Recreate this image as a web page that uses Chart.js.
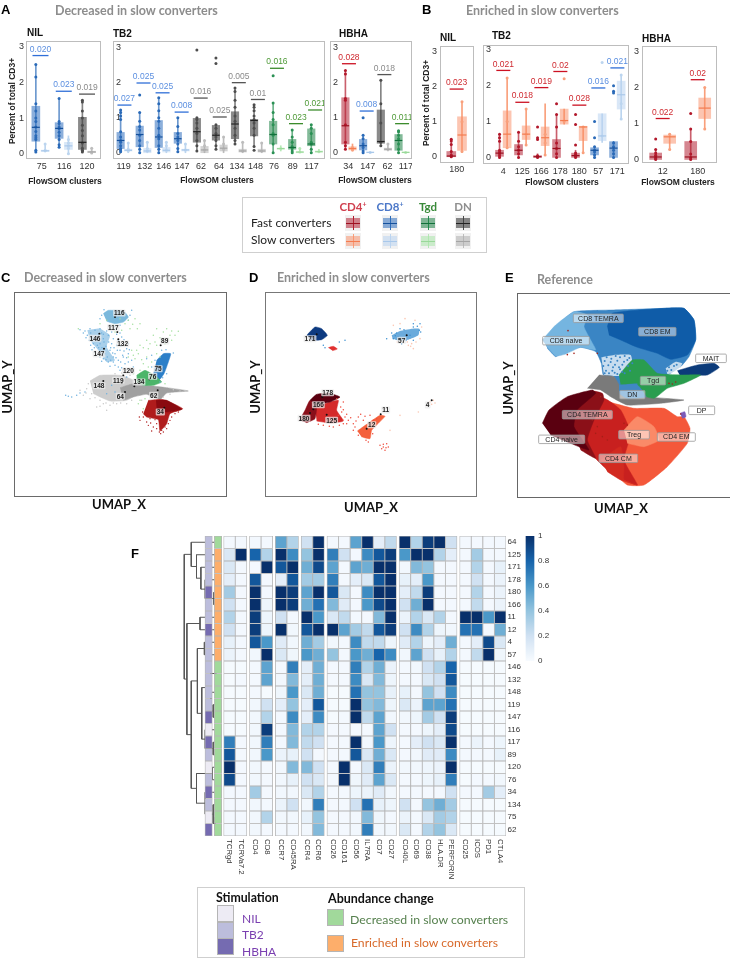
<!DOCTYPE html>
<html>
<head>
<meta charset="utf-8">
<title>Figure</title>
<script src="https://cdn.jsdelivr.net/npm/chart.js@4"></script>
<style>
  html, body { margin: 0; padding: 0; background: #fff; }
  #page { position: relative; width: 730px; height: 960px; overflow: hidden; font-family: "Liberation Sans", sans-serif; filter: blur(0.3px); }
  #page canvas { position: absolute; }
  .t { position: absolute; white-space: nowrap; line-height: 1; }
  .frame { position: absolute; box-sizing: border-box; }
</style>
</head>
<body>
<div id="page"></div>
<script>
// ---- panel A: decreased in slow converters. Boxes are [low, q1, median, q3, high]
const aNilClusters = [75, 116, 120];
const aNilLineage = ['CD8', 'CD8', 'DN'];
const aNilFast = [[0.05, 0.35, 0.74, 1.33, 2.5], [0.18, 0.43, 0.71, 0.87, 1.55], [0.05, 0.12, 0.32, 1.02, 1.5]];
const aNilSlow = [[0.05, 0.07, 0.08, 0.1, 0.27], [0, 0.12, 0.22, 0.32, 0.5], [0, 0.03, 0.05, 0.07, 0.15]];
const aNilFastPts = [[0.05, 0.1, 0.4, 0.45, 0.5, 0.62, 0.75, 0.9, 1.0, 1.2, 1.4, 2.15, 2.5], [0.18, 0.25, 0.4, 0.5, 0.6, 0.7, 0.75, 0.85, 0.9, 1.55], [0.05, 0.08, 0.1, 0.15, 0.3, 0.5, 0.65, 0.8, 1.0, 1.2, 1.45, 1.5]];
const aNilSlowPts = [[0.08, 0.1, 0.27], [0, 0.15, 0.22, 0.3, 0.4], [0.02, 0.05, 0.15]];
const aNilP = ['0.020', '0.023', '0.019'];
const aNilPY = [2.75, 1.75, 1.67];

const aTb2Clusters = [119, 132, 146, 147, 62, 64, 134, 148, 76, 89, 117];
const aTb2Lineage = ['CD8', 'CD8', 'CD8', 'CD8', 'DN', 'DN', 'DN', 'DN', 'Tgd', 'Tgd', 'Tgd'];
const aTb2Fast = [[0.03, 0.12, 0.35, 0.58, 1.22], [0, 0.17, 0.52, 0.76, 1.15], [0, 0.15, 0.45, 0.92, 1.57], [0.03, 0.27, 0.4, 0.58, 1.0], [0.05, 0.3, 0.6, 0.98, 1.0], [0.1, 0.36, 0.5, 0.78, 0.8], [0.25, 0.4, 0.82, 1.17, 1.85], [0.18, 0.48, 0.92, 0.95, 1.37], [0, 0.25, 0.52, 0.9, 1.42], [0, 0.1, 0.15, 0.38, 0.65], [0, 0.2, 0.25, 0.68, 0.8]];
const aTb2Slow = [[0, 0.05, 0.07, 0.1, 0.28], [0, 0, 0.05, 0.12, 0.3], [0, 0.02, 0.07, 0.15, 0.3], [0, 0.05, 0.08, 0.1, 0.25], [0, 0, 0.08, 0.18, 0.35], [0, 0.05, 0.13, 0.22, 0.45], [0, 0.02, 0.05, 0.1, 0.3], [0, 0.02, 0.05, 0.1, 0.28], [0.05, 0.1, 0.12, 0.13, 0.2], [0, 0, 0.02, 0.03, 0.12], [0, 0.02, 0.03, 0.05, 0.1]];
const aTb2FastPts = [[0.03, 0.08, 0.12, 0.2, 0.3, 0.35, 0.45, 0.6, 0.95, 1.05, 1.15, 1.22], [0, 0.1, 0.2, 0.35, 0.5, 0.65, 0.75, 0.9, 1.15, 1.65], [0, 0.1, 0.2, 0.4, 0.5, 0.7, 0.9, 1.0, 1.2, 1.4, 1.57], [0.03, 0.12, 0.25, 0.35, 0.45, 0.55, 0.75, 1.0], [0.05, 0.2, 0.35, 0.55, 0.7, 0.85, 0.95, 1.0, 2.93], [0.1, 0.2, 0.35, 0.45, 0.55, 0.7, 0.8, 2.55, 2.7], [0.25, 0.35, 0.5, 0.7, 0.9, 1.05, 1.3, 1.5, 1.75, 1.85], [0.07, 0.18, 0.5, 0.7, 0.85, 0.95, 1.05, 1.2, 1.3, 1.37], [0, 0.25, 0.5, 0.55, 0.8, 0.95, 1.15, 1.42, 2.2], [0, 0.05, 0.12, 0.18, 0.3, 0.45, 0.65], [0, 0.1, 0.25, 0.3, 0.55, 0.7, 0.8]];
const aTb2SlowPts = [[0.05, 0.1, 0.28], [0.05, 0.12, 0.3], [0.07, 0.2, 0.3], [0.08, 0.25], [0.08, 0.2, 0.35], [0.1, 0.25, 0.45], [0.05, 0.3], [0.05, 0.28], [0.12], [0.02, 0.12], [0.03]];
const aTb2P = ['0.027', '0.025', '0.025', '0.008', '0.016', '0.025', '0.005', '0.01', '0.016', '0.023', '0.021'];
const aTb2PY = [1.36, 1.99, 1.71, 1.16, 1.56, 1.02, 2.0, 1.52, 2.41, 0.83, 1.22];

const aHbhaClusters = [34, 147, 62, 117];
const aHbhaLineage = ['CD4', 'CD8', 'DN', 'Tgd'];
const aHbhaFast = [[0.1, 0.25, 0.77, 1.57, 2.35], [0, 0.08, 0.2, 0.38, 0.5], [0.2, 0.27, 0.32, 1.22, 2.07], [0, 0.07, 0.35, 0.52, 0.63]];
const aHbhaSlow = [[0.05, 0.08, 0.12, 0.17, 0.25], [0, 0, 0.01, 0.02, 0.03], [0.05, 0.07, 0.1, 0.13, 0.25], [0, 0, 0.01, 0.02, 0.02]];
const aHbhaFastPts = [[0.1, 0.2, 0.3, 0.8, 1.5, 1.55, 2.25, 2.35], [0, 0.05, 0.15, 0.25, 0.4, 0.5, 1.0], [0.2, 0.3, 0.85, 1.4, 2.07], [0, 0.1, 0.25, 0.4, 0.5, 0.6, 0.63]];
const aHbhaSlowPts = [[0.08, 0.12, 0.15], [0.01], [0.1, 0.25], [0.01]];
const aHbhaP = ['0.028', '0.008', '0.018', '0.011'];
const aHbhaPY = [2.54, 1.19, 2.23, 0.83];

// ---- panel B: enriched in slow converters
const bNilClusters = [180];
const bNilLineage = ['CD4'];
const bNilFast = [[0, 0, 0.02, 0.15, 0.5]];
const bNilSlow = [[0.12, 0.18, 0.62, 1.14, 1.57]];
const bNilFastPts = [[0, 0.02, 0.05, 0.15, 0.35, 0.45, 0.5]];
const bNilSlowPts = [[0.15, 1.0, 1.57]];
const bNilP = ['0.023'];
const bNilPY = [1.93];

const bTb2Clusters = [4, 125, 166, 178, 180, 57, 171];
const bTb2Lineage = ['CD4', 'CD4', 'CD4', 'CD4', 'CD4', 'CD8', 'CD8'];
const bTb2Fast = [[0, 0.03, 0.12, 0.2, 0.65], [0, 0.07, 0.2, 0.36, 0.7], [0, 0, 0.02, 0.05, 0.1], [0, 0, 0.25, 0.5, 1.2], [0, 0, 0.05, 0.12, 0.2], [0, 0.07, 0.2, 0.27, 0.3], [0, 0, 0.26, 0.44, 0.45]];
const bTb2Slow = [[0.25, 0.27, 0.65, 1.3, 2.22], [0.35, 0.5, 0.65, 0.88, 1.35], [0.07, 0.33, 0.55, 0.85, 1.5], [0.93, 0.93, 1.03, 1.35, 1.35], [0.13, 0.47, 0.85, 0.87, 0.87], [0.42, 0.47, 0.6, 1.22, 1.22], [1.07, 1.35, 1.75, 2.13, 2.3]];
const bTb2FastPts = [[0, 0.05, 0.1, 0.15, 0.2, 0.45, 0.55, 0.65], [0, 0.1, 0.2, 0.3, 0.45, 0.7], [0, 0.02, 0.05, 0.5, 0.55, 0.85], [0, 0.1, 0.25, 0.4, 0.85, 1.2, 1.5], [0, 0.03, 0.08, 0.12, 0.35, 0.92, 1.2], [0, 0.07, 0.15, 0.2, 0.3, 0.55, 1.0], [0, 0.1, 0.2, 0.3, 0.4, 1.8, 1.85, 2.0]];
const bTb2SlowPts = [[0.27, 1.0, 2.22], [0.35, 0.65, 1.35], [0.07, 0.4, 0.65], [1.0, 2.2], [0.13, 0.85], [0.6, 2.65], [1.07, 1.5, 2.3]];
const bTb2P = ['0.021', '0.018', '0.019', '0.02', '0.028', '0.016', '0.021'];
const bTb2PY = [2.43, 1.54, 1.95, 2.4, 1.46, 1.94, 2.5];

const bHbhaClusters = [12, 180];
const bHbhaLineage = ['CD4', 'CD4'];
const bHbhaFast = [[0, 0, 0.07, 0.18, 0.28], [0, 0, 0.07, 0.5, 0.85]];
const bHbhaSlow = [[0.28, 0.45, 0.63, 0.68, 0.72], [0.85, 1.14, 1.43, 1.71, 2.0]];
const bHbhaFastPts = [[0, 0.03, 0.07, 0.12, 0.18, 0.28, 0.57], [0, 0.05, 0.15, 0.5, 0.85, 1.28]];
const bHbhaSlowPts = [[0.28, 0.7], [0.85, 2.0]];
const bHbhaP = ['0.022', '0.02'];
const bHbhaPY = [1.14, 2.22];

// ---- UMAP clouds, read in picture units
const cBlobs = {
  '#cdcdcd': [[270, 362], [300, 345], [360, 345], [400, 360], [410, 400], [380, 420], [330, 422], [280, 400]],
  '#a0a0a0': [[360, 382], [400, 370], [440, 375], [500, 382], [565, 392], [500, 398], [480, 418], [440, 402], [400, 410], [370, 420]],
  'rgba(111,177,222,0.6)': [[262, 210], [300, 205], [330, 225], [320, 260], [345, 300], [320, 305], [295, 270], [270, 240]],
  '#7ab8dc': [[310, 160], [325, 150], [370, 152], [385, 170], [370, 185], [345, 190], [320, 183]],
  '#2c7fc8': [[470, 300], [490, 280], [512, 280], [505, 305], [492, 340], [478, 358], [460, 340]],
  '#4cb56a': [[410, 345], [435, 330], [470, 350], [485, 365], [460, 375], [430, 375], [410, 365]],
  '#b01c1c': [[445, 420], [490, 418], [548, 445], [510, 460], [500, 490], [480, 512], [475, 478], [440, 470], [430, 460]],
  '#8a0a10': [[468, 420], [500, 420], [545, 447], [500, 455], [470, 445]]
};
const cBlueSpeck = [[240, 208], [255, 212], [270, 205], [285, 210], [300, 205], [262, 225], [278, 232], [295, 225], [310, 235], [325, 225], [340, 235], [280, 250], [300, 250], [318, 258], [335, 250], [355, 240], [370, 250], [300, 270], [315, 280], [330, 270], [345, 280], [360, 270], [310, 295], [325, 305], [340, 290], [355, 300], [370, 290], [385, 280], [345, 315], [375, 310], [330, 318], [290, 285], [283, 262], [268, 240], [350, 222], [365, 230], [380, 265], [395, 300], [320, 212], [305, 218], [197, 405], [205, 408], [215, 410], [230, 405], [240, 398], [255, 395], [320, 400], [335, 375], [345, 395], [380, 350], [360, 330], [440, 295], [455, 320], [250, 218], [258, 232], [272, 218], [288, 240], [292, 255], [306, 262], [312, 245], [326, 245], [332, 262], [342, 262], [350, 255], [362, 258], [372, 272], [380, 292], [388, 268], [300, 290], [305, 303], [318, 298], [332, 300], [348, 292], [362, 305], [368, 285], [352, 270], [338, 278], [322, 290], [296, 262], [285, 275], [276, 268], [272, 255], [310, 222], [335, 215], [348, 205], [360, 218], [372, 238], [385, 250], [340, 305], [355, 320], [365, 322], [385, 305], [400, 320], [305, 165], [300, 175], [390, 165], [385, 180], [330, 195], [360, 195], [345, 198], [395, 150], [312, 148], [470, 355], [480, 365], [488, 352], [500, 340], [465, 300], [455, 285], [485, 270], [498, 268], [520, 278]];
const cGreenSpeck = [[235, 205], [300, 190], [320, 180], [340, 195], [360, 175], [385, 180], [405, 175], [420, 190], [390, 205], [365, 210], [345, 215], [470, 205], [490, 215], [515, 212], [535, 213], [525, 225], [505, 235], [480, 232], [460, 225], [440, 240], [420, 255], [445, 265], [470, 255], [495, 250], [515, 240], [395, 270], [415, 280], [440, 290], [405, 295], [385, 290], [430, 310], [455, 305], [420, 330], [400, 340], [415, 430], [430, 445], [375, 190], [398, 192], [412, 205], [500, 205], [510, 225], [485, 240], [465, 245], [450, 250], [430, 262], [410, 270], [400, 285], [425, 298], [445, 320], [470, 280], [480, 290], [420, 420], [435, 415], [495, 370]];
const cGreySpeck = [[290, 440], [310, 430], [330, 435], [350, 430], [300, 420], [270, 415], [250, 405], [260, 385], [240, 390], [425, 420], [380, 430], [320, 450], [540, 392], [555, 391], [265, 370], [258, 398], [285, 412], [318, 428], [340, 428], [362, 428], [395, 420], [300, 438], [275, 400], [345, 340], [365, 338], [390, 345], [520, 388], [510, 402], [490, 410]];
const cRedSpeck = [[430, 470], [440, 485], [450, 475], [470, 490], [485, 510], [495, 500], [505, 490], [515, 470], [525, 460], [460, 465], [490, 475], [420, 480], [445, 495], [478, 515], [535, 455], [460, 500], [510, 480], [436, 462], [428, 455], [452, 488], [465, 478], [470, 505], [482, 520], [490, 515], [500, 505], [515, 455], [528, 452], [418, 470], [455, 512]];
const cDots = [[345, 170], [352, 215], [298, 220], [355, 237], [312, 265], [482, 255], [470, 318], [370, 345], [365, 368], [448, 357], [403, 378], [310, 362], [375, 395], [473, 390], [493, 442]];
const cNames = ['116', '117', '146', '132', '147', '89', '75', '120', '119', '76', '134', '148', '64', '62', '34'];
const cLabelX = [358, 340, 285, 368, 297, 494, 474, 385, 355, 458, 417, 297, 361, 461, 481];
const cLabelY = [158, 202, 234, 250, 281, 242, 325, 332, 360, 348, 365, 376, 408, 405, 455];

const dBlobs = {
  '#0d3a80': [[920, 225], [945, 200], [965, 205], [982, 225], [965, 238], [935, 240]],
  '#e03030': [[985, 262], [1000, 258], [1012, 266], [998, 271]],
  'rgba(58,143,208,0.75)': [[1175, 225], [1200, 212], [1235, 205], [1258, 205], [1255, 225], [1225, 238], [1195, 240], [1178, 235]],
  '#d42a2a': [[945, 440], [990, 425], [1015, 420], [1010, 450], [1030, 482], [990, 488], [950, 482]],
  '#8a0f1a': [[898, 480], [915, 450], [930, 420], [950, 430], [945, 475], [920, 487]],
  '#5a0010': [[930, 420], [950, 402], [985, 398], [1020, 410], [990, 425], [950, 432]],
  '#f4603c': [[1072, 512], [1100, 492], [1140, 465], [1155, 468], [1115, 510], [1110, 535], [1085, 530]]
};
const dRedSpeck = [[1025, 455], [1035, 470], [1015, 465], [1045, 480], [1060, 490], [1075, 470], [1090, 480], [1110, 465], [1120, 480], [1060, 510], [1140, 555], [1150, 560], [1160, 550], [1155, 570], [1145, 565], [1165, 560], [1000, 500], [970, 495], [1030, 490], [1010, 415], [1030, 425], [1105, 545], [1125, 490], [1022, 440], [1030, 448], [1040, 462], [1052, 472], [1028, 478], [1040, 490], [1018, 495], [988, 498], [955, 492], [1068, 482], [1082, 462], [1095, 468], [1065, 500], [1075, 525], [1098, 540], [1118, 520], [1130, 475], [1150, 552], [1158, 562]];
const dPeachSpeck = [[1180, 195], [1215, 175], [1245, 180], [1265, 200], [1235, 250], [1240, 265], [1225, 255], [1260, 235], [1290, 425], [1300, 420], [1305, 428], [1295, 432], [1255, 455], [1200, 465], [1170, 510], [1222, 245], [1232, 258], [1248, 245], [1200, 190], [1192, 245], [1285, 430]];
const dBlueSpeck = [[1180, 235], [1190, 218], [1200, 205], [1240, 190], [1260, 190], [1262, 215], [1205, 250], [1240, 240], [970, 255], [975, 262], [1035, 240], [1018, 245], [1160, 235], [1186, 226], [1195, 230], [1208, 238], [1218, 240], [1230, 225], [1240, 200], [1252, 198], [1258, 210], [1212, 208], [1175, 218]];
const dDots = [[950, 222], [1220, 225], [967, 410], [940, 447], [930, 458], [980, 463], [1142, 462], [1100, 505], [1295, 420]];
const dNames = ['171', '57', '178', '166', '180', '125', '11', '12', '4'];
const dLabelX = [930, 1205, 983, 955, 912, 995, 1157, 1115, 1283];
const dLabelY = [235, 240, 397, 433, 474, 480, 449, 493, 434];

const eBlobs = {
  '#3a85c4': [[190, 240], [230, 195], [280, 155], [400, 150], [550, 145], [610, 145], [640, 180], [645, 240], [625, 290], [600, 320], [560, 345], [530, 345], [530, 395], [415, 395], [400, 350], [368, 345], [362, 310], [345, 275], [300, 262], [250, 275], [225, 290], [200, 265]],
  '#0f5ca8': [[380, 200], [395, 160], [550, 145], [610, 145], [640, 180], [645, 240], [620, 285], [570, 298], [530, 280], [470, 262], [420, 240], [385, 225]],
  '#75b5e0': [[185, 240], [225, 195], [280, 155], [320, 165], [310, 200], [330, 240], [345, 270], [300, 262], [255, 282], [225, 288], [200, 262]],
  'rgba(255,255,255,0.72)': [[362, 292], [400, 285], [450, 285], [455, 310], [445, 345], [400, 348], [370, 345]],
  'rgba(255,255,255,0.7)': [[555, 325], [585, 305], [605, 310], [590, 335], [560, 342]],
  '#0c3b7a': [[590, 332], [650, 315], [700, 310], [716, 322], [680, 345], [630, 345], [600, 350]],
  '#7a7a7a': [[355, 345], [400, 350], [420, 380], [500, 410], [610, 420], [540, 430], [440, 435], [390, 410], [360, 390], [320, 385]],
  '#2a9d4f': [[415, 345], [455, 300], [490, 300], [530, 340], [600, 345], [660, 345], [610, 370], [560, 385], [520, 415], [470, 400], [470, 370], [420, 375]],
  '#4088c4': [[415, 375], [470, 375], [495, 410], [440, 416], [415, 400]],
  '#f4583a': [[370, 420], [400, 430], [460, 445], [550, 445], [590, 470], [610, 470], [628, 505], [620, 550], [560, 620], [490, 675], [440, 675], [405, 640], [420, 560], [420, 500]],
  '#c8201f': [[320, 440], [370, 415], [420, 450], [450, 520], [430, 600], [470, 675], [420, 655], [375, 625], [340, 590], [300, 530]],
  '#8b1018': [[250, 450], [330, 393], [365, 400], [370, 420], [340, 480], [320, 540], [345, 595], [300, 570]],
  '#5a0010': [[185, 490], [205, 450], [260, 410], [335, 390], [345, 400], [290, 450], [280, 500], [325, 570], [270, 550], [210, 525]],
  '#fa8a68': [[430, 510], [470, 470], [520, 500], [535, 540], [490, 560], [440, 550]],
  '#d22a20': [[360, 600], [420, 560], [430, 620], [430, 660], [470, 675], [420, 660], [380, 635]],
  '#7a5ab8': [[598, 460], [612, 455], [616, 470], [605, 475]]
};
const eBlueSpeck = [[372, 303], [383, 316], [397, 322], [410, 302], [425, 314], [440, 300], [455, 310], [385, 340], [402, 338], [418, 328], [432, 340], [565, 322], [580, 318], [378, 292], [392, 296], [405, 288], [418, 292], [432, 288], [446, 294], [368, 318], [376, 332], [390, 306], [403, 314], [415, 322], [430, 305], [442, 318], [372, 340], [395, 332], [410, 342], [425, 336], [448, 332], [572, 330], [588, 314], [560, 332]];
const eRedSpeck = [[262, 212], [260, 284], [280, 280], [350, 280], [525, 225], [565, 370], [575, 372], [585, 366], [600, 462], [360, 410], [430, 490], [440, 495], [335, 480], [350, 500], [365, 530], [345, 520], [380, 540]];
const eNames = ['CD8 TEMRA', 'CD8 EM', 'CD8 naive', 'MAIT', 'Tgd', 'DN', 'DP', 'CD4 TEMRA', 'CD4 naive', 'Treg', 'CD4 EM', 'CD4 CM'];
const eLabelX = [353, 530, 256, 691, 517, 455, 663, 320, 243, 460, 587, 413];
const eLabelY = [175, 215, 242, 295, 362, 404, 451, 464, 538, 524, 531, 595];
const eLabelW = [150, 112, 140, 92, 76, 76, 78, 150, 138, 92, 114, 116];

// ---- panel F heatmap
const markerNames = ['TCRgd', 'TCRVa7.2', 'CD4', 'CD8', 'CCR7', 'CD45RA', 'CCR4', 'CCR6', 'CD26', 'CD161', 'CD56', 'IL7RA', 'CD7', 'CD27', 'CD40L', 'CD69', 'CD38', 'HLA.DR', 'PERFORIN', 'CD25', 'ICOS', 'PD1', 'CTLA4'];
const markerGroups = [0, 0, 1, 1, 2, 2, 3, 3, 4, 4, 4, 4, 4, 4, 5, 5, 5, 5, 5, 6, 6, 6, 6];
const rowClusters = [64, 125, 171, 178, 180, 166, 11, 12, 4, 57, 146, 132, 148, 119, 147, 116, 117, 89, 120, 76, 34, 134, 75, 62];
const rowStimulation = ['TB2', 'TB2', 'TB2', 'TB2', 'HBHA', 'TB2', 'TB2', 'HBHA', 'TB2', 'TB2', 'TB2', 'TB2', 'TB2', 'TB2', 'HBHA', 'NIL', 'HBHA', 'TB2', 'NIL', 'TB2', 'HBHA', 'TB2', 'NIL', 'HBHA'];
const rowAbundance = ['dec', 'enr', 'enr', 'enr', 'enr', 'enr', 'enr', 'enr', 'enr', 'enr', 'dec', 'dec', 'dec', 'dec', 'dec', 'dec', 'dec', 'dec', 'dec', 'dec', 'dec', 'dec', 'dec', 'dec'];
const heatValues = [
  [.02, .02, .02, .02, .55, .3, .2, 1, .02, .02, .55, 1, .1, .25, 1, .3, .95, 1, .2, .02, .02, .02, .02],
  [.15, 1, .8, .3, 1, .65, .4, 1, .7, .2, .02, .65, .85, .95, .6, 1, 1, .3, .1, .02, .35, .02, .02],
  [.15, .02, .02, 1, .85, 1, .5, .9, .55, .02, .55, .5, 1, 1, .03, .45, .4, .02, .02, .02, .3, .02, .08],
  [.1, .02, .85, .02, .1, .85, .35, .35, .7, .02, .1, .15, .85, 1, .08, .1, .6, .02, .02, .02, .2, .02, .06],
  [.35, .02, 1, .02, 1, .95, .55, 1, .85, .15, .02, .65, 1, 1, .1, .25, .95, .02, .02, .02, .3, .02, .06],
  [.2, .02, 1, .05, 1, .95, .5, .75, .45, .12, .02, .6, .9, 1, .2, .5, 1, .02, .02, .02, .25, .02, .06],
  [.3, .02, .95, .05, .2, .02, 1, .6, .15, .25, .02, .02, .45, 1, .06, .3, .15, .3, .02, 1, 1, .6, 1],
  [.2, .02, .95, .05, 1, .03, .85, 1, 1, .55, .35, .25, .85, .95, .2, .65, .3, .05, .03, .75, .75, .02, .5],
  [.08, .02, .85, .6, .12, .03, .5, .35, .03, .02, .65, .25, .25, .05, .12, .3, .05, .1, .5, .02, .1, .9, .15],
  [.06, .02, .03, 1, .15, .04, .6, .5, .4, .02, .6, .5, .8, .65, .03, .55, .2, .08, .3, .02, .25, 1, .04],
  [.01, .01, .02, .55, .02, .7, .1, .5, .02, .02, .7, .3, .5, .06, .02, .03, .2, .3, .8, .01, .01, .01, .01],
  [.01, .02, .02, .55, .03, .45, .1, .5, .02, .02, .65, .15, .45, .05, .02, .02, .15, .2, .85, .01, .01, .01, .01],
  [.01, .01, .02, .01, .04, .6, .15, .5, .01, .01, .75, .4, .4, .08, .08, .02, .4, .2, .65, .01, .01, .01, .01],
  [.01, .01, .03, .2, .1, .4, .1, .85, .01, .01, 1, .4, .45, .05, .15, .06, .55, .55, .75, .01, .01, .01, .01],
  [.01, .01, .03, .3, .02, .65, .1, .65, .01, .02, 1, .25, .55, .03, .03, .05, .35, .2, .95, .01, .01, .01, .01],
  [.01, .01, .03, .95, .02, .45, .3, .3, .02, .02, .02, .02, .55, .2, .02, .02, .05, .1, .9, .01, .01, .01, .01],
  [.7, .02, .03, .7, .02, .45, .25, .2, .02, .02, 1, .03, .6, .05, .02, .1, .2, .15, 1, .02, .06, .02, .05],
  [.85, .02, .03, .6, .06, .08, .2, .02, .02, .02, .85, .15, .5, .15, .02, .03, .12, .12, .65, .02, .02, .02, .08],
  [1, .02, .03, .02, .03, .45, .45, .2, .02, 1, .02, .15, .7, .06, .03, .03, .05, .06, 1, .01, .01, .01, .01],
  [.9, .02, .03, .02, .03, .08, .2, .15, .02, 1, .04, .12, .55, .15, .02, .02, .05, .08, .7, .01, .02, .02, .03],
  [.02, .02, .35, .02, .03, .03, .15, .3, .02, .02, .05, .06, .12, .03, .02, .02, .02, .02, .2, .02, .02, .35, .1],
  [.02, .02, .03, .02, .06, .2, .03, .7, .02, .02, .2, .75, .08, .05, .2, .02, .4, .5, .35, .01, .01, .01, .01],
  [.02, .02, .03, .3, .03, .03, .08, .4, .02, .02, .03, .45, .04, .02, .06, .02, .15, .35, .3, .01, .01, .01, .01],
  [.02, .02, .03, .02, .02, .02, .03, .45, .02, .02, .03, .7, .03, .03, .15, .02, .3, .4, .15, .01, .01, .01, .01]
];
// dendrogram: [height, childA, childB]; child >= 0 is a row, child < 0 is merge -(k + 1)
const dendroMerges = [[7, 4, 5], [17, 3, -1], [22, 2, -2], [27, 1, -3], [33, 0, -4], [23, 6, 7], [18, 8, 9], [5, 10, 11], [8, 13, 14], [10, 12, -9], [11, -8, -10], [8, 16, 17], [17, 15, -12], [21, -11, -13], [26, -7, -14], [9, 18, 19], [6, 22, 23], [8, 21, -17], [17, 20, -18], [27, -16, -19], [33, -15, -20], [38, -6, -21], [41, -5, -22]];
const colorbarTicks = [0, 0.2, 0.4, 0.6, 0.8, 1];

// ---- styling
const FONT = '"Liberation Sans", sans-serif';
const lineageStyle = {
  CD4: { fast: 'rgba(178,34,52,0.55)', fastDark: '#b2182b', med: '#9c1020', slow: 'rgba(250,140,100,0.5)', slowDark: '#f9a07c', medSlow: '#f47c50', line: '#cc1122', text: '#cf2a30' },
  CD8: { fast: 'rgba(45,110,190,0.55)', fastDark: '#2a6ab8', med: '#14509c', slow: 'rgba(185,212,240,0.55)', slowDark: '#bcd5ef', medSlow: '#a9c8ea', line: '#2f6fd8', text: '#5b8fe0' },
  Tgd: { fast: 'rgba(30,130,70,0.55)', fastDark: '#2b9155', med: '#11703a', slow: 'rgba(170,230,170,0.55)', slowDark: '#b6e8b6', medSlow: '#9ad89a', line: '#3c8c2c', text: '#4f9a38' },
  DN: { fast: 'rgba(60,60,60,0.6)', fastDark: '#4d4d4d', med: '#222', slow: 'rgba(175,175,175,0.55)', slowDark: '#bdbdbd', medSlow: '#a5a5a5', line: '#555', text: '#8a8a8a' }
};
const stimColors = { NIL: '#edebf4', TB2: '#bcbddc', HBHA: '#756bb1' };
const abundanceColors = { dec: '#a1d99b', enr: '#fdae6b' };
const heatStops = [[8, 48, 107], [23, 100, 171], [74, 152, 201], [148, 196, 223], [208, 225, 242], [247, 251, 255]];

const page = document.getElementById('page');

function heatColor(v) {
  const p = (1 - v) * 5, i = Math.min(4, Math.floor(p)), f = p - i;
  const c = heatStops[i].map((a, k) => Math.round(a + (heatStops[i + 1][k] - a) * f));
  return `rgb(${c.join(',')})`;
}

function text(label, x, y, style) {
  const el = document.createElement('div');
  el.className = 't';
  el.innerHTML = label;
  el.style.left = x + 'px';
  el.style.top = y + 'px';
  Object.assign(el.style, style || {});
  page.appendChild(el);
  return el;
}

function frame(l, t, r, b, color, width) {
  const el = document.createElement('div');
  el.className = 'frame';
  el.style.cssText = `left:${l}px;top:${t}px;width:${r - l}px;height:${b - t}px;border:${width}px solid ${color};`;
  page.appendChild(el);
  return el;
}

function addCanvas(x, y, w, h) {
  const cv = document.createElement('canvas');
  cv.width = w;
  cv.height = h;
  cv.style.cssText = `left:${x}px;top:${y}px;width:${w}px;height:${h}px;`;
  page.appendChild(cv);
  return cv;
}

// box panel: chart area is pinned so the axis limits place the ticks where the figure has them
// the figure's cluster labels were set by hand, so g.tickX can nudge them off the box pairs
function boxPanel(d, g) {
  const cv = addCanvas(g.x, g.y, g.w, g.h);
  const st = d.lineage.map(l => lineageStyle[l]);
  const off = 0.2;
  const bx = [], wh = [], meds = [], bxC = [], whC = [], medC = [], pts = [], ptC = [];
  d.fast.forEach((f, i) => {
    const s = d.slow[i];
    wh.push({ x: i - off, y: [f[0], f[4]] }, { x: i + off, y: [s[0], s[4]] });
    bx.push({ x: i - off, y: [f[1], f[3]] }, { x: i + off, y: [s[1], s[3]] });
    meds.push({ x: i - off, y: f[2] }, { x: i + off, y: s[2] });
    bxC.push(st[i].fast, st[i].slow);
    whC.push(st[i].fastDark + 'b0', st[i].slowDark);
    medC.push(st[i].med, st[i].medSlow);
    d.fastPts[i].forEach(v => { pts.push({ x: i - off, y: v }); ptC.push(st[i].fastDark); });
    d.slowPts[i].forEach(v => { pts.push({ x: i + off, y: v }); ptC.push(st[i].slowDark); });
  });
  const sig = d.clusters.map((_, i) => ({ x: i, y: d.pY[i] }));
  new Chart(cv, {
    type: 'bar',
    data: {
      datasets: [
        { data: wh, backgroundColor: whC, barThickness: 1, grouped: false, order: 5 },
        { data: bx, backgroundColor: bxC, borderWidth: 0, barThickness: g.boxW, grouped: false, order: 4 },
        { type: 'scatter', data: pts, backgroundColor: ptC, borderWidth: 0, pointRadius: 1.5, order: 3 },
        { type: 'scatter', data: meds, pointStyle: 'line', borderColor: medC, borderWidth: 1.2, pointRadius: g.boxW / 2, order: 2 },
        { type: 'scatter', data: sig, pointStyle: 'line', borderColor: st.map(s => s.line), borderWidth: 1.3, pointRadius: g.sigR, order: 1 }
      ]
    },
    options: {
      responsive: false, animation: false, events: [],
      layout: { padding: 0, autoPadding: false },
      plugins: { legend: { display: false }, tooltip: { enabled: false } },
      scales: {
        x: {
          type: 'linear', offset: false, min: g.xMin, max: g.xMax,
          grid: { display: false, offset: false, drawTicks: false }, border: { display: false },
          afterFit: s => { s.height = g.h - g.areaH; s.paddingLeft = 0; s.paddingRight = 0; },
          afterBuildTicks: s => { s.ticks = d.clusters.map((_, i) => ({ value: g.tickX ? g.tickX[i] : i })); },
          ticks: { callback: (v, i) => d.clusters[i], autoSkip: false, maxRotation: 0, minRotation: 0, padding: g.tickPad, color: '#333', font: { family: FONT, size: 9 } }
        },
        y: {
          min: g.yMin, max: g.yMax, grid: { display: false, drawTicks: false }, border: { display: false },
          afterFit: s => { s.width = g.axisW; s.paddingTop = 0; s.paddingBottom = 0; },
          afterBuildTicks: s => { s.ticks = [0, 1, 2, 3].map(v => ({ value: v })); },
          ticks: { mirror: g.mirror, padding: g.mirror ? 3 : 3, color: '#333', font: { family: FONT, size: 9 } }
        }
      }
    },
    plugins: [{
      id: 'pText',
      afterDatasetsDraw(chart) {
        const { ctx, scales } = chart;
        ctx.save();
        ctx.font = `8.5px ${FONT}`;
        ctx.textAlign = 'center';
        ctx.textBaseline = 'bottom';
        d.clusters.forEach((_, i) => {
          ctx.fillStyle = st[i].text;
          ctx.fillText(d.p[i], scales.x.getPixelForValue(i), scales.y.getPixelForValue(d.pY[i]) - 2);
        });
        ctx.restore();
      }
    }]
  });
}

boxPanel({ clusters: aNilClusters, lineage: aNilLineage, fast: aNilFast, slow: aNilSlow, fastPts: aNilFastPts, slowPts: aNilSlowPts, p: aNilP, pY: aNilPY },
  { x: 3, y: 42, w: 98, h: 132, areaH: 116, axisW: 24, mirror: false, tickPad: 3, tickX: [0.05, 1.02, 2.0], xMin: -0.58, xMax: 2.6, yMin: -0.12, yMax: 3.13, boxW: 8, sigR: 8 });
boxPanel({ clusters: aTb2Clusters, lineage: aTb2Lineage, fast: aTb2Fast, slow: aTb2Slow, fastPts: aTb2FastPts, slowPts: aTb2SlowPts, p: aTb2P, pY: aTb2PY },
  { x: 113, y: 42, w: 212, h: 132, areaH: 116, axisW: 0, mirror: true, tickPad: 3, tickX: [-0.04, 1.06, 2.06, 3.02, 4.02, 4.96, 5.9, 6.87, 7.85, 8.83, 9.81], xMin: -0.6, xMax: 10.52, yMin: -0.15, yMax: 3.16, boxW: 7.5, sigR: 7 });
boxPanel({ clusters: aHbhaClusters, lineage: aHbhaLineage, fast: aHbhaFast, slow: aHbhaSlow, fastPts: aHbhaFastPts, slowPts: aHbhaSlowPts, p: aHbhaP, pY: aHbhaPY },
  { x: 330, y: 42, w: 82, h: 132, areaH: 116, axisW: 0, mirror: true, tickPad: 3, tickX: [-0.04, 1.06, 2.17, 3.21], xMin: -1.07, xMax: 3.56, yMin: -0.15, yMax: 3.16, boxW: 7.5, sigR: 7 });
boxPanel({ clusters: bNilClusters, lineage: bNilLineage, fast: bNilFast, slow: bNilSlow, fastPts: bNilFastPts, slowPts: bNilSlowPts, p: bNilP, pY: bNilPY },
  { x: 420, y: 47, w: 53, h: 128, areaH: 115, axisW: 20, mirror: false, tickPad: 2, xMin: -0.62, xMax: 0.61, yMin: -0.15, yMax: 3.13, boxW: 9, sigR: 7 });
boxPanel({ clusters: bTb2Clusters, lineage: bTb2Lineage, fast: bTb2Fast, slow: bTb2Slow, fastPts: bTb2FastPts, slowPts: bTb2SlowPts, p: bTb2P, pY: bTb2PY },
  { x: 483, y: 45, w: 145, h: 132, areaH: 118, axisW: 0, mirror: true, tickPad: 3, xMin: -1.07, xMax: 6.56, yMin: -0.156, yMax: 3.14, boxW: 8, sigR: 7 });
boxPanel({ clusters: bHbhaClusters, lineage: bHbhaLineage, fast: bHbhaFast, slow: bHbhaSlow, fastPts: bHbhaFastPts, slowPts: bHbhaSlowPts, p: bHbhaP, pY: bHbhaPY },
  { x: 622, y: 47, w: 95, h: 130, areaH: 115, axisW: 20, mirror: false, tickPad: 4, xMin: -0.59, xMax: 1.55, yMin: -0.07, yMax: 3.13, boxW: 12, sigR: 7 });

// UMAP panel: polygons for the dense parts, read points for the loose ones
// chart.js paints the lowest order last, so each later dataset gets a lower order
function umapPanel(g, blobs, specks, dots, labels) {
  const cv = addCanvas(g.x, g.y, g.w, g.h);
  const datasets = [];
  Object.keys(blobs).forEach(color => {
    const border = color.startsWith('rgba') ? 'transparent' : color;
    datasets.push({ type: 'line', data: blobs[color].map(([x, y]) => ({ x, y })), fill: 'shape', backgroundColor: color, borderColor: border, borderWidth: 0.5, pointRadius: 0, tension: 0.15 });
  });
  specks.forEach(s => {
    datasets.push({ type: 'scatter', data: s.pts.map(([x, y]) => ({ x, y })), backgroundColor: s.color, borderWidth: 0, pointRadius: s.r });
  });
  datasets.push({ type: 'scatter', data: dots.map(([x, y]) => ({ x, y })), backgroundColor: '#111', borderWidth: 0, pointRadius: 1 });
  datasets.forEach((ds, i) => { ds.order = -i; });
  new Chart(cv, {
    type: 'scatter',
    data: { datasets },
    options: {
      responsive: false, animation: false, events: [],
      layout: { padding: 0, autoPadding: false },
      plugins: { legend: { display: false }, tooltip: { enabled: false } },
      scales: {
        x: { type: 'linear', display: false, min: g.xr[0], max: g.xr[1] },
        y: { type: 'linear', display: false, reverse: true, min: g.yr[0], max: g.yr[1] }
      }
    },
    plugins: [{
      id: 'umapLabels',
      afterDatasetsDraw(chart) {
        const { ctx, scales } = chart;
        ctx.save();
        ctx.textAlign = 'center';
        ctx.textBaseline = 'middle';
        labels.names.forEach((name, i) => {
          const px = scales.x.getPixelForValue(labels.x[i]), py = scales.y.getPixelForValue(labels.y[i]);
          ctx.font = labels.font;
          const w = labels.w ? labels.w[i] / 3 : ctx.measureText(name).width + 2;
          const h = labels.h;
          ctx.fillStyle = labels.bg;
          ctx.beginPath();
          ctx.roundRect(px - w / 2, py - h / 2, w, h, 1);
          ctx.fill();
          if (labels.border) { ctx.strokeStyle = labels.border; ctx.lineWidth = 0.8; ctx.stroke(); }
          ctx.fillStyle = '#222';
          ctx.fillText(name, px, py + 0.5);
        });
        ctx.restore();
      }
    }]
  });
}

const smallLabel = { font: `bold 6.5px ${FONT}`, h: 7, bg: 'rgba(235,235,235,0.75)' };
umapPanel({ x: 15, y: 293, w: 212, h: 204, xr: [45, 681], yr: [98, 710] }, cBlobs,
  [{ pts: cBlueSpeck, color: '#6fb1de', r: 0.75 }, { pts: cGreenSpeck, color: '#a5e0a0', r: 0.75 }, { pts: cGreySpeck, color: '#c8c8c8', r: 0.75 }, { pts: cRedSpeck, color: '#b01c1c', r: 0.7 }],
  cDots, Object.assign({ names: cNames, x: cLabelX, y: cLabelY }, smallLabel));
umapPanel({ x: 266, y: 293, w: 211, h: 204, xr: [798, 1431], yr: [98, 710] }, dBlobs,
  [{ pts: dRedSpeck, color: '#ef4a3a', r: 0.75 }, { pts: dPeachSpeck, color: '#fbc8b4', r: 0.8 }, { pts: dBlueSpeck, color: '#3a8fd0', r: 0.75 }],
  dDots, Object.assign({ names: dNames, x: dLabelX, y: dLabelY }, smallLabel));
umapPanel({ x: 518, y: 294, w: 212, h: 204, xr: [112, 748], yr: [102, 714] }, eBlobs,
  [{ pts: eBlueSpeck, color: '#3a85c4', r: 1 }, { pts: eRedSpeck, color: '#a52018', r: 0.8 }],
  [], { names: eNames, x: eLabelX, y: eLabelY, w: eLabelW, font: `7px ${FONT}`, h: 8.5, bg: 'rgba(255,255,255,0.5)', border: '#999' });

// heatmap
(function () {
  const W = 380, H = 352, gap = 0.23, leftCols = 5.5, padR = 34, padB = 50, padT = 2;
  const cv = addCanvas(160, 534, W, H);
  const xOf = j => j + markerGroups[j] * gap + 0.5;
  const cells = [], cellColors = [];
  heatValues.forEach((row, r) => row.forEach((v, j) => {
    cells.push({ x: xOf(j), y: [r, r + 1] });
    cellColors.push(heatColor(v));
  }));
  const stim = rowClusters.map((_, r) => ({ x: -1.3, y: [r, r + 1] }));
  const abun = rowClusters.map((_, r) => ({ x: -0.49, y: [r, r + 1] }));
  const midOf = [];
  const nodeY = c => c >= 0 ? c + 0.5 : midOf[-c - 1];
  const nodeH = c => c >= 0 ? 0 : dendroMerges[-c - 1][0];
  const tree = [];
  dendroMerges.forEach(([h, a, b]) => {
    tree.push({ x: nodeH(a), y: nodeY(a) }, { x: h, y: nodeY(a) }, { x: h, y: nodeY(b) }, { x: nodeH(b), y: nodeY(b) }, { x: NaN, y: NaN });
    midOf.push((nodeY(a) + nodeY(b)) / 2);
  });
  const edge = '#b5b5b5';
  new Chart(cv, {
    type: 'bar',
    data: {
      datasets: [
        { data: cells, backgroundColor: cellColors, borderColor: edge, borderWidth: 0.8, borderSkipped: false, barThickness: 11.57, grouped: false },
        { data: stim, backgroundColor: rowStimulation.map(s => stimColors[s]), borderColor: edge, borderWidth: 0.8, borderSkipped: false, barThickness: 7.3, grouped: false },
        { data: abun, backgroundColor: rowAbundance.map(s => abundanceColors[s]), borderColor: edge, borderWidth: 0.8, borderSkipped: false, barThickness: 7.3, grouped: false },
        { type: 'line', xAxisID: 'xd', data: tree, borderColor: '#555', borderWidth: 1, pointRadius: 0, tension: 0, spanGaps: false }
      ]
    },
    options: {
      responsive: false, animation: false, events: [],
      layout: { padding: { top: padT, bottom: padB, right: padR }, autoPadding: false },
      plugins: { legend: { display: false }, tooltip: { enabled: false } },
      scales: {
        x: { type: 'linear', display: false, offset: false, grid: { offset: false }, min: -leftCols, max: 24.38 },
        xd: { type: 'linear', display: false, reverse: true, min: -302, max: 44 },
        y: { type: 'linear', display: false, reverse: true, min: 0, max: 24 }
      }
    },
    plugins: [{
      id: 'heatText',
      afterDraw(chart) {
        const { ctx, scales, chartArea } = chart;
        ctx.save();
        ctx.fillStyle = '#333';
        ctx.font = `8px ${FONT}`;
        ctx.textBaseline = 'middle';
        ctx.textAlign = 'left';
        rowClusters.forEach((name, r) => ctx.fillText(name, chartArea.right + 1.5, scales.y.getPixelForValue(r + 0.5)));
        ctx.font = `7.8px ${FONT}`;
        markerNames.forEach((name, j) => {
          ctx.save();
          ctx.translate(scales.x.getPixelForValue(xOf(j)), chartArea.bottom + 3);
          ctx.rotate(Math.PI / 2);
          ctx.fillText(name, 0, 0);
          ctx.restore();
        });
        ctx.restore();
      }
    }]
  });
})();

// colour bar
new Chart(addCanvas(525, 530, 34, 136), {
  type: 'bar',
  data: {
    labels: [''],
    datasets: [{
      data: [[0, 1]], barThickness: 8,
      backgroundColor: ctx => {
        const a = ctx.chart.chartArea;
        if (!a) return '#08306b';
        const g = ctx.chart.ctx.createLinearGradient(0, a.bottom, 0, a.top);
        colorbarTicks.forEach(t => g.addColorStop(t, heatColor(t)));
        return g;
      }
    }]
  },
  options: {
    responsive: false, animation: false, events: [],
    layout: { padding: { top: 6, bottom: 5 }, autoPadding: false },
    plugins: { legend: { display: false }, tooltip: { enabled: false } },
    scales: {
      x: { display: false },
      y: {
        position: 'right', min: 0, max: 1, grid: { display: false, drawTicks: false }, border: { display: false },
        afterFit: s => { s.width = 24; s.paddingTop = 0; s.paddingBottom = 0; },
        afterBuildTicks: s => { s.ticks = colorbarTicks.map(v => ({ value: v })); },
        ticks: { color: '#333', padding: 3, callback: v => String(v), font: { family: FONT, size: 8 } }
      }
    }
  }
});

// ---- frames and text
const panelFrame = '#bdbdbd';
frame(26, 41, 101, 158.5, panelFrame, 1.5);
frame(113, 41, 325, 158.5, panelFrame, 1.5);
frame(330, 41, 412, 158.5, panelFrame, 1.5);
frame(440, 46, 473.5, 162.5, panelFrame, 1.5);
frame(483, 45, 628.5, 163.5, panelFrame, 1.5);
frame(641.5, 46, 717, 162.5, panelFrame, 1.5);
frame(14, 292, 227, 497, '#6a6a6a', 1);
frame(265, 292, 477, 497, '#777', 1);
frame(517, 293, 731, 498, '#666', 1);

const letter = { font: `bold 13px ${FONT}`, color: '#000' };
text('A', 1, 2, letter);
text('B', 422, 2, letter);
text('C', 1, 270, letter);
text('D', 249, 270, letter);
text('E', 505, 270, letter);
text('F', 131, 546, letter);

const grey = { font: 'bold 12.5px Lato, sans-serif', color: '#8d8d8d' };
text('Decreased in slow converters', 55, 3, grey);
text('Enriched in slow converters', 466, 3, grey);
text('Decreased in slow converters', 24, 270, grey);
text('Enriched in slow converters', 277, 270, grey);
text('Reference', 537, 272, grey);

const sub = { font: `bold 10px ${FONT}`, color: '#111' };
text('NIL', 27, 27, sub);
text('TB2', 113, 28, sub);
text('HBHA', 339, 28, sub);
text('NIL', 440, 32, sub);
text('TB2', 492, 30, sub);
text('HBHA', 642, 33, sub);

const flow = { font: `bold 8.5px ${FONT}`, color: '#222', transform: 'translateX(-50%)' };
text('FlowSOM clusters', 65, 176, flow);
text('FlowSOM clusters', 217, 175, flow);
text('FlowSOM clusters', 375, 175, flow);
text('FlowSOM clusters', 562, 177, flow);
text('FlowSOM clusters', 678, 177, flow);

const yTitle = { font: `bold 8.5px ${FONT}`, color: '#222', transform: 'translate(-50%,-50%) rotate(-90deg)' };
text('Percent of total CD3+', 12, 101, yTitle);
text('Percent of total CD3+', 426, 103, yTitle);

const umapTxt = { font: 'bold 13px Lato, sans-serif', color: '#111' };
text('UMAP_X', 119, 504, Object.assign({ transform: 'translate(-50%,-50%)' }, umapTxt));
text('UMAP_X', 371, 507, Object.assign({ transform: 'translate(-50%,-50%)' }, umapTxt));
text('UMAP_X', 621, 508, Object.assign({ transform: 'translate(-50%,-50%)' }, umapTxt));
const umapRot = Object.assign({ transform: 'translate(-50%,-50%) rotate(-90deg)' }, umapTxt);
text('UMAP_Y', 7, 387, umapRot);
text('UMAP_Y', 255, 387, umapRot);
text('UMAP_Y', 508, 388, umapRot);

// legend of lineages
frame(242, 197, 487, 253, '#cfcfcf', 1);
const legendCols = [['CD4<sup style="font-size:7px;vertical-align:4px;line-height:0">+</sup>', 'CD4', '#d0404f', 353], ['CD8<sup style="font-size:7px;vertical-align:4px;line-height:0">+</sup>', 'CD8', '#4c78c8', 390], ['Tgd', 'Tgd', '#3a8a3a', 428], ['DN', 'DN', '#8f8f8f', 463]];
legendCols.forEach(([label, key, color, x]) => {
  text(label, x, 206, { font: 'bold 11.5px Lato, sans-serif', color, transform: 'translate(-50%,-50%)' });
  [['fast', 223], ['slow', 241]].forEach(([kind, y]) => {
    const s = lineageStyle[key];
    const box = document.createElement('div');
    box.className = 'frame';
    const edgeCol = kind === 'fast' ? s.fastDark : s.slowDark;
    box.style.cssText = `left:${x - 8}px;top:${y - 8}px;width:16px;height:16px;background:#f1f1f1;`;
    box.innerHTML = `<div style="position:absolute;left:7.5px;top:1px;width:1px;height:14px;background:${edgeCol}"></div>` +
      `<div style="position:absolute;left:1px;top:3px;width:14px;height:10px;background:${s[kind]}"></div>` +
      `<div style="position:absolute;left:1px;top:7.5px;width:14px;height:1px;background:${kind === 'fast' ? s.med : s.medSlow}"></div>`;
    page.appendChild(box);
  });
});
const legTxt = { font: '12px Lato, sans-serif', color: '#222', transform: 'translateY(-50%)' };
text('Fast converters', 251, 222, legTxt);
text('Slow converters', 251, 239, legTxt);

// legend of the heatmap side bars
frame(197, 887, 525, 958, '#cfcfcf', 1);
text('Stimulation', 216, 890, { font: 'bold 12.3px Lato, sans-serif', color: '#111' });
text('Abundance change', 328, 891, { font: 'bold 12.5px Lato, sans-serif', color: '#111' });
[['NIL', 905, 916], ['TB2', 921.5, 932], ['HBHA', 938, 949]].forEach(([name, y, ty]) => {
  const sw = frame(217, y, 234, y + 17, '#b5b5b5', 0.8);
  sw.style.background = stimColors[name];
  text(name, 242, ty - 5, { font: '12px Lato, sans-serif', color: '#7a3fb0' });
});
const decSw = frame(327, 909, 344, 926, '#b5b5b5', 0.8);
decSw.style.background = abundanceColors.dec;
const enrSw = frame(327, 935, 344, 952, '#b5b5b5', 0.8);
enrSw.style.background = abundanceColors.enr;
text('Decreased in slow converters', 350, 912, { font: '12.3px Lato, sans-serif', color: '#56804e' });
text('Enriched in slow converters', 351, 935, { font: '12.2px Lato, sans-serif', color: '#d8692a' });
</script>
</body>
</html>
